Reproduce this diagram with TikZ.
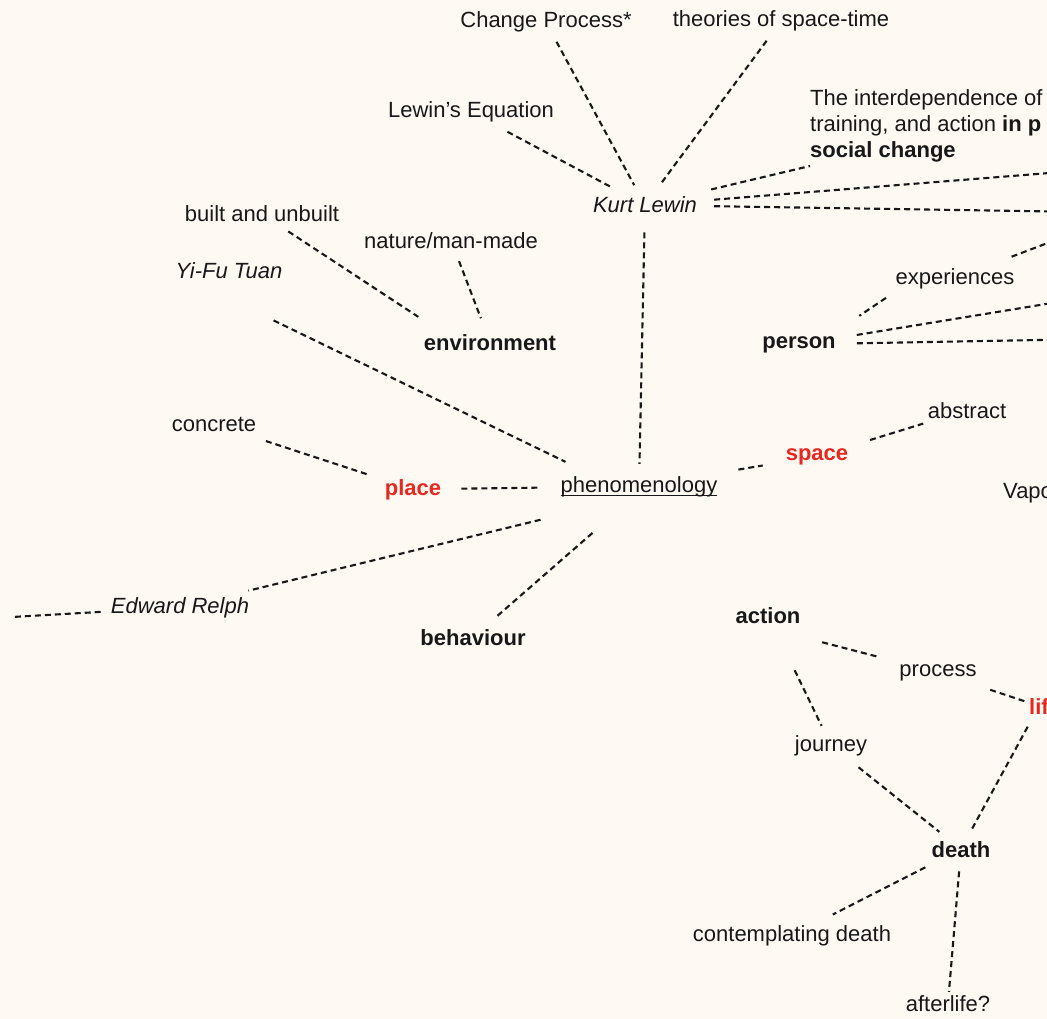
\documentclass[tikz,border=0pt]{standalone}
\usepackage{fontspec}
\setmainfont{Liberation Sans}
\usetikzlibrary{calc}
\definecolor{paper}{RGB}{255,249,244}
\definecolor{ink}{RGB}{24,24,24}
\definecolor{hot}{RGB}{232,40,30}
\newcommand{\ulword}[1]{\setbox0\hbox{#1}\rlap{\vrule height -2.6pt depth 4.0pt width \wd0}\box0}
\tikzset{
  note/.style={font=\fontsize{22}{26}\selectfont, text=ink, inner xsep=14pt, inner ysep=9pt, anchor=base},
  key/.style={note, font=\fontsize{22}{26}\selectfont\bfseries},
  hotkey/.style={key, text=hot},
  who/.style={note, font=\fontsize{22}{26}\selectfont\itshape},
  link/.style={draw=ink, line width=2.1pt, dash pattern=on 6pt off 4pt},
}
\begin{document}
\begin{tikzpicture}[x=1pt,y=-1pt]
\useasboundingbox (0,0) rectangle (1047,1019);
\fill[paper] (0,0) rectangle (1047,1019);
\clip (0,0) rectangle (1047,1019);

% Kurt Lewin cluster
\node[note] (cp)  at (546,28)  {Change Process*};
\node[note] (tst) at (781,27)  {theories of space-time};
\node[note] (le)  at (471,118) {Lewin's Equation};
\node[who]  (kl)  at (645,213) {Kurt Lewin};
\node[note, anchor=north west, align=left, inner sep=0pt] (idp) at (810,89)
  {The interdependence of\\training, and action \textbf{in p}\\\textbf{social change}};

% environment and person
\node[note] (bu)  at (262,222) {built and unbuilt};
\node[note] (nm)  at (451,248) {nature/man-made};
\node[who]  (yft) at (229,279) {Yi-Fu Tuan};
\node[key]  (env) at (490,350) {environment};
\node[note] (exp) at (955,284) {experiences};
\node[key]  (per) at (799,348) {person};

% place, space, phenomenology
\node[note] (abs) at (967,418) {abstract};
\node[note] (con) at (214,431) {concrete};
\node[hotkey] (spc) at (817,460) {space};
\node[hotkey] (plc) at (413,495) {place};
\node[note] (phe) at (639,492) {\ulword{phenomenology}};
\node[note, anchor=base west, inner xsep=0pt] (vap) at (1003,498) {Vapo};
\node[who]  (er)  at (180,613) {Edward Relph};
\node[key]  (beh) at (473,645) {behaviour};

% action, life and death
\node[key]  (act) at (768,623) {action};
\node[note] (pro) at (938,676) {process};
\node[hotkey, anchor=base west, inner xsep=0pt] (lif) at (1029,714) {lif};
\node[note] (jou) at (831,751) {journey};
\node[key]  (dth) at (961,857) {death};
\node[note] (cd)  at (792,941) {contemplating death};
\node[note] (aft) at (948,1011) {afterlife?};

% ends leading beyond the sheet
\coordinate (klA)  at (1150,165);
\coordinate (klB)  at (1150,213);
\coordinate (expR) at (1150,204);
\coordinate (perA) at (1150,287);
\coordinate (perB) at (1150,338);
\coordinate (erL)  at (12,617);

% connectors
\draw[link] (le) -- (kl);
\draw[link, shorten >=3pt] (cp) -- (kl);
\draw[link, shorten >=6pt] (tst) -- (kl);
\draw[link] (kl) -- ([yshift=-4pt]idp.south west);
\draw[link, shorten <=3pt] (kl) -- (klA);
\draw[link, shorten <=3pt] (kl) -- (klB);
\draw[link, shorten <=10pt, shorten >=3pt] (kl) -- (phe);
\draw[link, shorten >=26pt] (bu) -- ($(env)+(-50,-11)$);
\draw[link, shorten <=4pt, shorten >=7pt] (nm) -- (env);
\draw[link] ($(yft.south east)+(-23,32)$) -- ($(phe.north west)+(19,-5)$);
\draw[link, shorten <=2pt, shorten >=3pt] (con) -- (plc);
\draw[link, shorten <=6pt, shorten >=6pt] (plc) -- (phe);
\draw[link, shorten <=7pt, shorten >=9pt] (phe) -- (spc);
\draw[link, shorten <=8pt, shorten >=-10pt] (spc) -- (abs);
\draw[link, shorten >=-12pt] ($(phe.south west)+(-6,14)$) -- (er);
\draw[link, shorten <=-4pt] (er) -- (erL);
\draw[link, shorten <=71pt, shorten >=6pt] ($(phe)+(7,0)$) -- (beh);
\draw[link, shorten <=35pt, shorten >=51pt] ($(exp)+(-40,0)$) -- ($(per)+(18,0)$);
\draw[link, shorten <=6pt] (exp) -- (expR);
\draw[link, shorten <=7pt] (per) -- (perA);
\draw[link, shorten <=7pt] (per) -- (perB);
\draw[link, shorten <=56pt, shorten >=7pt] ($(act)+(0,13)$) -- (pro);
\draw[link, shorten >=4pt] (pro) -- (lif);
\draw[link, shorten <=4pt] (lif) -- (dth);
\draw[link, shorten <=42pt] (act) -- (jou);
\draw[link, shorten <=4pt] (jou) -- (dth);
\draw[link, shorten <=2pt, shorten >=3pt] (dth) -- (cd);
\draw[link, shorten <=5pt, shorten >=-6pt] (dth) -- (aft);
\end{tikzpicture}
\end{document}
